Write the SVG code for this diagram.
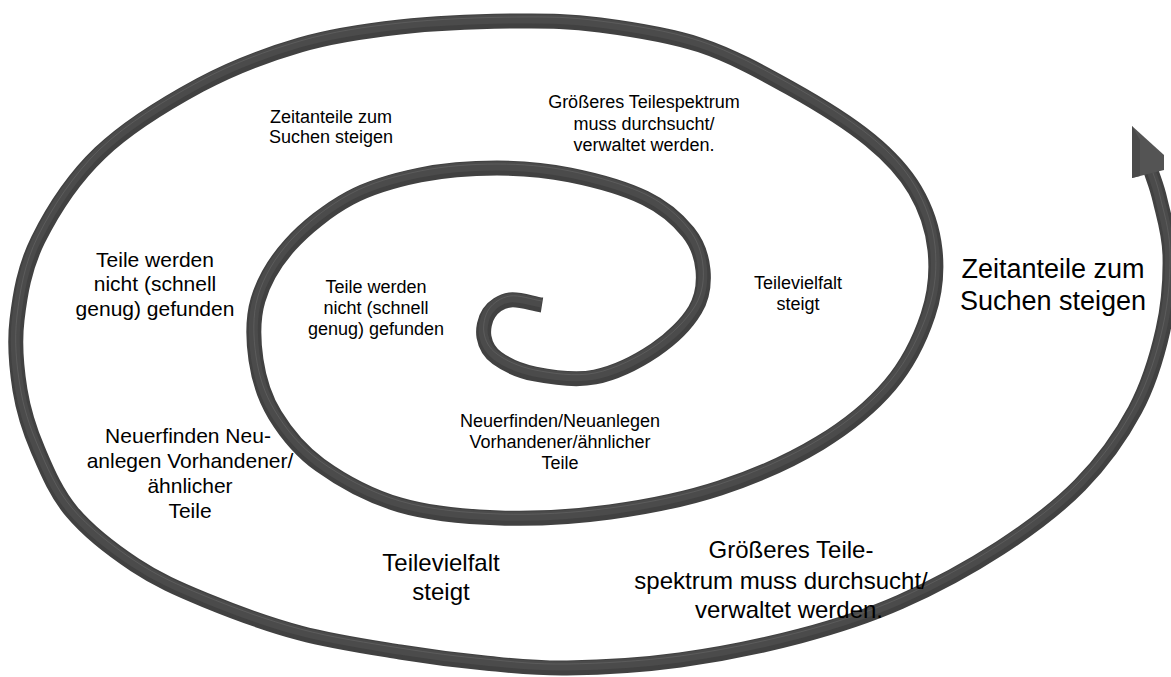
<svg xmlns="http://www.w3.org/2000/svg" xmlns:xlink="http://www.w3.org/1999/xlink" width="1171" height="677" viewBox="0 0 1171 677">
  <style>
    text { font-family: "Liberation Sans", Arial, sans-serif; fill: #000; text-anchor: middle; }
    .s { font-size: 18px; }
    .m { font-size: 21px; }
    .l { font-size: 24px; }
    .xl { font-size: 27px; }
    .band { fill: none; stroke-linecap: butt; stroke-linejoin: round; }
  </style>
  <defs>
    <!-- centre line of the spiral band, from the inner hook out to the arrow -->
    <path id="spiral" d="M542,305
      C531.3,303.3 518.8,298.7 510,300
      C501.2,301.3 493.3,306.8 489,313
      C484.7,319.2 482.7,329.5 484,337
      C485.3,344.5 488.5,351.8 497,358
      C505.5,364.2 518.7,370.8 535,374
      C551.3,377.2 575,381 595,377
      C615,373 638.3,361.2 655,350
      C671.7,338.8 687,323.3 695,310
      C703,296.7 704.2,283 703,270
      C701.8,257 697.7,244 688,232
      C678.3,220 664.7,207.5 645,198
      C625.3,188.5 594.7,180 570,175
      C545.3,170 522,168 497,168
      C472,168 444.5,170 420,175
      C395.5,180 371.7,186.3 350,198
      C328.3,209.7 305.3,228 290,245
      C274.7,262 263.7,280.8 258,300
      C252.3,319.2 253.2,340.8 256,360
      C258.8,379.2 264.3,397.5 275,415
      C285.7,432.5 299.2,450 320,465
      C340.8,480 370,496.2 400,505
      C430,513.8 465,516.8 500,518
      C535,519.2 573.3,517 610,512
      C646.7,507 685,499.5 720,488
      C755,476.5 791.7,460.2 820,443
      C848.3,425.8 872,406.3 890,385
      C908,363.7 920.5,337.5 928,315
      C935.5,292.5 937.2,270.8 935,250
      C932.8,229.2 925.8,208.3 915,190
      C904.2,171.7 890.8,157 870,140
      C849.2,123 818.3,103.8 790,88
      C761.7,72.2 731.7,55.5 700,45
      C668.3,34.5 630.5,29 600,25
      C569.5,21 550.3,20.7 517,21
      C483.7,21.3 436.2,23 400,27
      C363.8,31 333.3,35.3 300,45
      C266.7,54.7 233.3,67 200,85
      C166.7,103 127,127.2 100,153
      C73,178.8 51.8,212.2 38,240
      C24.2,267.8 20,295 17,320
      C14,345 16.5,368.3 20,390
      C23.5,411.7 29.3,429.7 38,450
      C46.7,470.3 55.8,492.8 72,512
      C88.2,531.2 112.8,550.3 135,565
      C157.2,579.7 177.5,588.7 205,600
      C232.5,611.3 267.5,624.3 300,633
      C332.5,641.7 369.2,647 400,652
      C430.8,657 457.2,660.3 485,663
      C512.8,665.7 534.5,668.5 567,668
      C599.5,667.5 641.2,665.3 680,660
      C718.8,654.7 763.3,645.7 800,636
      C836.7,626.3 866.7,616.7 900,602
      C933.3,587.3 970,567.5 1000,548
      C1030,528.5 1057.5,508 1080,485
      C1102.5,462 1121.2,435.8 1135,410
      C1148.8,384.2 1157.2,355.8 1163,330
      C1168.8,304.2 1170.5,276.7 1170,255
      C1169.5,233.3 1163.3,214.5 1160,200
      C1156.7,185.5 1153.3,178.7 1150,168"/>
  </defs>

  <!-- spiral band: dark side face, flat top face and a faint edge highlight -->
  <g id="spiral-band">
    <use xlink:href="#spiral" href="#spiral" class="band" stroke="#414141" stroke-width="15"/>
    <use xlink:href="#spiral" href="#spiral" class="band" stroke="#4b4b4b" stroke-width="9" transform="translate(-0.5,-2)"/>
    <use xlink:href="#spiral" href="#spiral" class="band" stroke="#707070" stroke-width="0.8" stroke-opacity="0.55" transform="translate(0,-4)"/>
    <!-- arrow tip -->
    <polygon id="arrow-tip" points="1132,126 1164,155 1164,170 1132,178" fill="#545454"/>
    <polygon points="1132,178 1140,176 1140,140 1132,126" fill="#4a4a4a"/>
  </g>

  <!-- inner labels -->
  <g id="inner-search-time">
    <text class="s" x="331" y="123">Zeitanteile zum</text>
    <text class="s" x="331" y="143">Suchen steigen</text>
  </g>
  <g id="inner-spectrum">
    <text class="s" x="644" y="108">Größeres Teilespektrum</text>
    <text class="s" x="644" y="129.5">muss durchsucht/</text>
    <text class="s" x="644" y="151">verwaltet werden.</text>
  </g>
  <g id="inner-variety">
    <text class="s" x="798" y="289">Teilevielfalt</text>
    <text class="s" x="798" y="310">steigt</text>
  </g>
  <g id="inner-not-found">
    <text class="s" x="376" y="293">Teile werden</text>
    <text class="s" x="376" y="314">nicht (schnell</text>
    <text class="s" x="376" y="335">genug) gefunden</text>
  </g>
  <g id="inner-reinvent">
    <text class="s" x="560" y="427">Neuerfinden/Neuanlegen</text>
    <text class="s" x="560" y="448">Vorhandener/ähnlicher</text>
    <text class="s" x="560" y="469">Teile</text>
  </g>

  <!-- outer labels -->
  <g id="outer-not-found">
    <text class="m" x="155" y="267">Teile werden</text>
    <text class="m" x="155" y="291">nicht (schnell</text>
    <text class="m" x="155" y="316">genug) gefunden</text>
  </g>
  <g id="outer-reinvent">
    <text class="m" x="188" y="443">Neuerfinden Neu-</text>
    <text class="m" x="190" y="468">anlegen Vorhandener/</text>
    <text class="m" x="190" y="493">ähnlicher</text>
    <text class="m" x="190" y="518">Teile</text>
  </g>
  <g id="outer-variety">
    <text class="l" x="441" y="571">Teilevielfalt</text>
    <text class="l" x="441" y="600">steigt</text>
  </g>
  <g id="outer-spectrum">
    <text class="l" x="791" y="558">Größeres Teile-</text>
    <text class="l" x="781" y="589">spektrum muss durchsucht/</text>
    <text class="l" x="789" y="618">verwaltet werden.</text>
  </g>
  <g id="outer-search-time">
    <text class="xl" x="1053" y="278">Zeitanteile zum</text>
    <text class="xl" x="1053" y="310">Suchen steigen</text>
  </g>
</svg>
